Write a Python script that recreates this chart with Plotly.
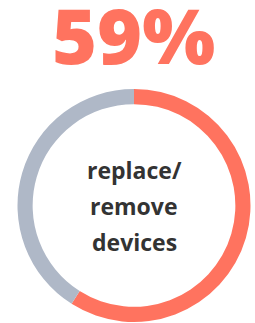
import plotly.graph_objects as go

labels = ["replace/remove devices", "other"]
values = [59, 41]
colors = ["#FF735F", "#AFB8C7"]
headline = "59%"
center_lines = ["replace/", "remove", "devices"]

W, H = 255, 323

fig = go.Figure(go.Pie(
    labels=labels,
    values=values,
    hole=0.87,
    sort=False,
    direction="clockwise",
    rotation=0,
    marker=dict(colors=colors, line=dict(width=0)),
    textinfo="none",
    hoverinfo="skip",
    showlegend=False,
    domain=dict(x=[17.5 / W, 250.5 / W], y=[1 / H, 234 / H]),
))

fig.add_annotation(
    text=headline, x=133 / W, y=1 - 34 / H, xref="paper", yref="paper",
    xanchor="center", yanchor="middle", showarrow=False,
    height=64, valign="middle",
    font=dict(family="Open Sans", size=77, color="#FF735F", weight=800),
)

line_y = [170, 206, 242]
for t, yy in zip(center_lines, line_y):
    fig.add_annotation(
        text=t, x=134 / W, y=1 - yy / H, xref="paper", yref="paper",
        xanchor="center", yanchor="middle", showarrow=False,
        font=dict(family="Open Sans", size=23, color="#333333", weight="bold"),
    )

fig.update_layout(
    width=W, height=H,
    margin=dict(l=0, r=0, t=0, b=0),
    paper_bgcolor="white", plot_bgcolor="white",
)

fig.write_html(
    "out.html",
    config={"displayModeBar": False},
    post_script="document.body.style.margin='0';",
)
